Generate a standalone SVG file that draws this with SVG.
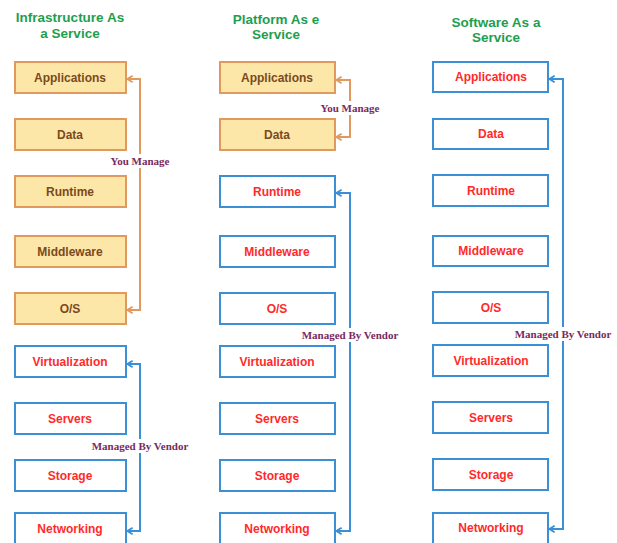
<svg xmlns="http://www.w3.org/2000/svg" width="617" height="543" viewBox="0 0 617 543">
<style>
.title{font-family:"Liberation Sans",Arial,sans-serif;font-weight:bold;font-size:13.5px;fill:#1e9e4e;text-anchor:middle}
.you rect{fill:#fde7a8;stroke:#e09a5e;stroke-width:2}
.you text{font-family:"Liberation Sans",Arial,sans-serif;font-weight:bold;font-size:12px;fill:#7a4a1e;text-anchor:middle;dominant-baseline:central}
.ven rect{fill:#fff;stroke:#3a8fd6;stroke-width:2}
.ven text{font-family:"Liberation Sans",Arial,sans-serif;font-weight:bold;font-size:12px;fill:#ff2a2a;text-anchor:middle;dominant-baseline:central}
.cb{fill:none;stroke:#e09a5e;stroke-width:2}
.cv{fill:none;stroke:#3a8fd6;stroke-width:2}
.lbl{font-family:"Liberation Serif","Times New Roman",serif;font-weight:bold;font-size:11px;fill:#7a2a5e;text-anchor:middle;dominant-baseline:central}
.lblbg{fill:#fff}
</style>
<defs>
<marker id="ab" viewBox="0 0 10 10" refX="9" refY="5" markerWidth="8" markerHeight="9" orient="auto-start-reverse" markerUnits="userSpaceOnUse">
<polyline points="2,1 8.5,5 2,9" fill="none" stroke="#e09a5e" stroke-width="2.2"/>
</marker>
<marker id="av" viewBox="0 0 10 10" refX="9" refY="5" markerWidth="8" markerHeight="9" orient="auto-start-reverse" markerUnits="userSpaceOnUse">
<polyline points="2,1 8.5,5 2,9" fill="none" stroke="#3a8fd6" stroke-width="2.2"/>
</marker>
</defs>
<rect width="617" height="543" fill="#fff"/>
<g id="titles">
<text class="title" x="70" y="22">Infrastructure As</text>
<text class="title" x="70" y="38">a Service</text>
<text class="title" x="276" y="24">Platform As e</text>
<text class="title" x="276" y="39">Service</text>
<text class="title" x="496" y="27">Software As a</text>
<text class="title" x="496" y="42">Service</text>
</g>
<g id="iaas">
<g id="iaas-applications" class="you"><rect x="15" y="62" width="111" height="31"/><text x="70" y="77.5">Applications</text></g>
<g id="iaas-data" class="you"><rect x="15" y="119" width="111" height="31"/><text x="70" y="134.5">Data</text></g>
<g id="iaas-runtime" class="you"><rect x="15" y="176" width="111" height="31"/><text x="70" y="191.5">Runtime</text></g>
<g id="iaas-middleware" class="you"><rect x="15" y="236" width="111" height="31"/><text x="70" y="251.5">Middleware</text></g>
<g id="iaas-os" class="you"><rect x="15" y="293" width="111" height="31"/><text x="70" y="308.5">O/S</text></g>
<g id="iaas-virtualization" class="ven"><rect x="15" y="346" width="111" height="31"/><text x="70" y="361.5">Virtualization</text></g>
<g id="iaas-servers" class="ven"><rect x="15" y="403" width="111" height="31"/><text x="70" y="418.5">Servers</text></g>
<g id="iaas-storage" class="ven"><rect x="15" y="460" width="111" height="31"/><text x="70" y="475.5">Storage</text></g>
<g id="iaas-networking" class="ven"><rect x="15" y="513" width="111" height="31"/><text x="70" y="528.5">Networking</text></g>
</g>
<g id="paas">
<g id="paas-applications" class="you"><rect x="220" y="62" width="115" height="31"/><text x="277" y="77.5">Applications</text></g>
<g id="paas-data" class="you"><rect x="220" y="119" width="115" height="31"/><text x="277" y="134.5">Data</text></g>
<g id="paas-runtime" class="ven"><rect x="220" y="176" width="115" height="31"/><text x="277" y="191.5">Runtime</text></g>
<g id="paas-middleware" class="ven"><rect x="220" y="236" width="115" height="31"/><text x="277" y="251.5">Middleware</text></g>
<g id="paas-os" class="ven"><rect x="220" y="293" width="115" height="31"/><text x="277" y="308.5">O/S</text></g>
<g id="paas-virtualization" class="ven"><rect x="220" y="346" width="115" height="31"/><text x="277" y="361.5">Virtualization</text></g>
<g id="paas-servers" class="ven"><rect x="220" y="403" width="115" height="31"/><text x="277" y="418.5">Servers</text></g>
<g id="paas-storage" class="ven"><rect x="220" y="460" width="115" height="31"/><text x="277" y="475.5">Storage</text></g>
<g id="paas-networking" class="ven"><rect x="220" y="513" width="115" height="31"/><text x="277" y="528.5">Networking</text></g>
</g>
<g id="saas">
<g id="saas-applications" class="ven"><rect x="433" y="62" width="115" height="30"/><text x="491" y="76.5">Applications</text></g>
<g id="saas-data" class="ven"><rect x="433" y="119" width="115" height="30"/><text x="491" y="133.5">Data</text></g>
<g id="saas-runtime" class="ven"><rect x="433" y="175" width="115" height="31"/><text x="491" y="190.5">Runtime</text></g>
<g id="saas-middleware" class="ven"><rect x="433" y="236" width="115" height="30"/><text x="491" y="250.5">Middleware</text></g>
<g id="saas-os" class="ven"><rect x="433" y="292" width="115" height="31"/><text x="491" y="307.5">O/S</text></g>
<g id="saas-virtualization" class="ven"><rect x="433" y="345" width="115" height="31"/><text x="491" y="360.5">Virtualization</text></g>
<g id="saas-servers" class="ven"><rect x="433" y="402" width="115" height="31"/><text x="491" y="417.5">Servers</text></g>
<g id="saas-storage" class="ven"><rect x="433" y="459" width="115" height="31"/><text x="491" y="474.5">Storage</text></g>
<g id="saas-networking" class="ven"><rect x="433" y="513" width="115" height="31"/><text x="491" y="527.5">Networking</text></g>
</g>
<g id="connectors">
<path class="cb" d="M127,79 H140 V310 H127" marker-start="url(#ab)" marker-end="url(#ab)"/>
<path class="cv" d="M127,364 H140 V531 H127" marker-start="url(#av)" marker-end="url(#av)"/>
<path class="cb" d="M336,80 H350 V137 H336" marker-start="url(#ab)" marker-end="url(#ab)"/>
<path class="cv" d="M336,193 H350 V531 H336" marker-start="url(#av)" marker-end="url(#av)"/>
<path class="cv" d="M549,79 H563 V529 H549" marker-start="url(#av)" marker-end="url(#av)"/>
<rect class="lblbg" x="108" y="154" width="66" height="14"/>
<text class="lbl" x="140" y="161">You Manage</text>
<rect class="lblbg" x="89" y="439" width="104" height="14"/>
<text class="lbl" x="140" y="446">Managed By Vendor</text>
<rect class="lblbg" x="317" y="101" width="66" height="14"/>
<text class="lbl" x="350" y="108">You Manage</text>
<rect class="lblbg" x="299" y="328" width="102" height="14"/>
<text class="lbl" x="350" y="335">Managed By Vendor</text>
<rect class="lblbg" x="512" y="327" width="102" height="14"/>
<text class="lbl" x="563" y="334">Managed By Vendor</text>
</g>
</svg>
